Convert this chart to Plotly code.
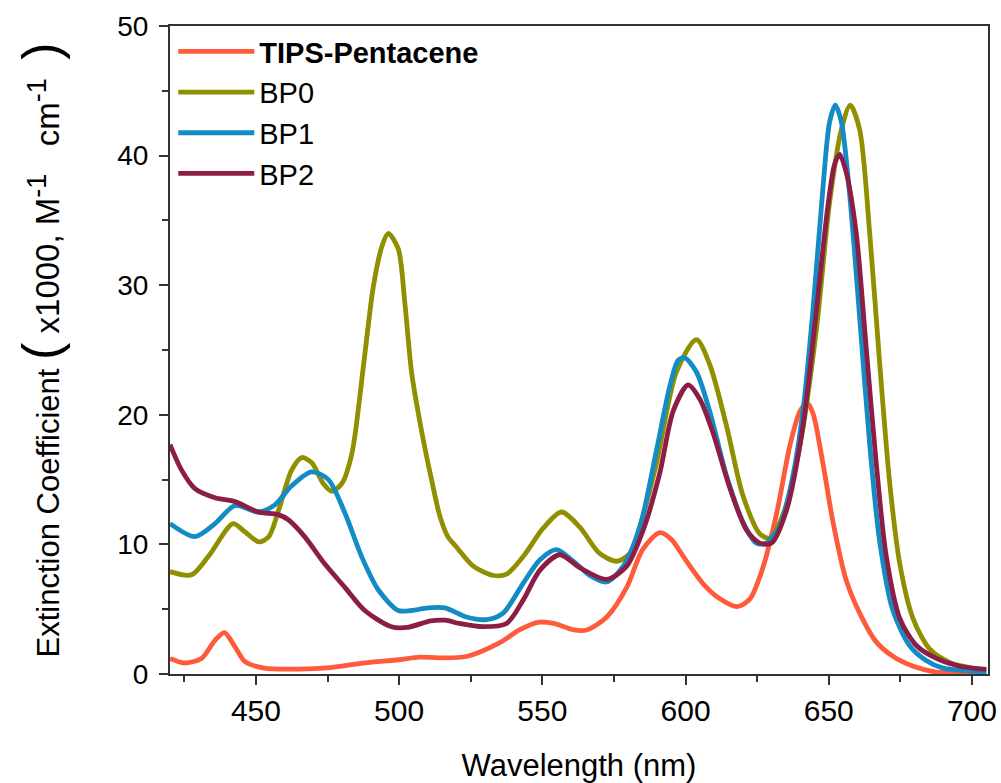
import plotly.graph_objects as go

# ---------------- data ----------------
tips_x = [420, 425, 431, 435.7, 439, 442.7, 446.2, 453, 465, 476, 488, 500, 507, 514, 523.5, 535, 542, 549,
          554, 561, 565.5, 572.5, 579.5, 585, 591, 595, 600, 606, 612, 618, 622.5, 627, 632, 636.5, 640,
          642.5, 644.5, 648, 651.5, 656, 661, 666.5, 672.5, 679.5, 687.5, 695.5, 705]
tips_y = [1.2, 0.85, 1.2, 2.6, 3.2, 2.1, 0.95, 0.45, 0.38, 0.5, 0.85, 1.1, 1.3, 1.25, 1.35, 2.4, 3.4, 4.0,
          3.9, 3.4, 3.4, 4.4, 6.7, 9.6, 10.9, 10.4, 8.8, 7.0, 5.8, 5.2, 5.8, 8.2, 12.6, 17.7, 20.3,
          20.9, 20.1, 16.2, 11.7, 7.3, 4.6, 2.5, 1.35, 0.6, 0.15, 0.05, 0.0]

bp0_x = [420, 427.5, 433.5, 442, 446, 451, 454.5, 458, 462.5, 466, 469.5, 473.5, 476.5, 480, 483.5, 487.5,
         491, 494, 496.2, 499.7, 502, 504.4, 507.8, 511.3, 514.2, 517, 520, 526, 533, 537.5, 543.3, 550.3,
         556.7, 563, 570, 576, 580.5, 585, 590, 596.8, 603.8, 608.4, 614.3, 620, 626, 629.4, 634, 640,
         645.7, 650.3, 654.4, 657.5, 660.8, 664.3, 667.8, 671.3, 674.8, 679.4, 685.2, 692.2, 700.3, 705]
bp0_y = [7.9, 7.65, 9.1, 11.6, 11.0, 10.2, 10.6, 12.7, 15.75, 16.7, 16.3, 14.7, 14.1, 14.7, 17.0, 23.7,
         29.9, 33.0, 34.0, 32.8, 28.6, 23.2, 18.8, 15.0, 12.2, 10.6, 9.8, 8.3, 7.6, 7.7, 9.06, 11.25,
         12.5, 11.35, 9.3, 8.7, 9.3, 12.1, 16.4, 23.3, 25.8, 23.9, 19.15, 13.8, 10.8, 10.5, 12.3, 17.7,
         26.6, 36.4, 42.0, 43.9, 42.0, 34.0, 23.9, 14.7, 8.5, 4.3, 1.93, 0.9, 0.45, 0.3]

bp1_x = [420, 428.7, 435.7, 442.7, 450.8, 456.6, 462.4, 469.4, 475.3, 481.1, 486.9, 492.7, 499.7, 504.3,
         510, 516, 523.5, 530.5, 536.3, 543.3, 549.1, 554.9, 560.8, 566.6, 572.4, 578.2, 584.1, 589.9,
         594.5, 597.4, 599.7, 603.8, 608.4, 614.3, 620.1, 624.7, 628.2, 632.9, 637.5, 641, 644.5, 648,
         650.3, 652.3, 654.4, 657.3, 660.8, 664.3, 667.8, 672.4, 678.2, 684, 689.9, 695.7, 705]
bp1_y = [11.6, 10.6, 11.6, 13.0, 12.5, 13.05, 14.5, 15.6, 15.0, 12.4, 9.06, 6.5, 4.9, 4.9,
         5.1, 5.1, 4.4, 4.2, 4.7, 7.0, 8.8, 9.6, 8.7, 7.6, 7.1, 8.3, 11.4, 17.3,
         22.2, 24.2, 24.4, 23.3, 20.3, 15.3, 11.7, 10.1, 10.1, 11.4, 15.3, 20.3, 28.1, 37.6,
         42.6, 43.9, 42.6, 37.0, 27.5, 17.7, 10.2, 4.9, 2.2, 1.04, 0.45, 0.3, 0.15]

bp2_x = [420, 424, 428.7, 435.7, 442.7, 450.8, 457.8, 461.3, 467, 474, 481, 488, 497.3, 503, 511, 516,
         521, 529.3, 537.5, 543.3, 549.1, 556.1, 563.1, 572.4, 579.4, 585.2, 591, 595.7, 600.9, 605,
         609.6, 615.4, 621.3, 625.9, 630, 635.2, 641, 645.7, 649.7, 652, 653.8, 656.1, 659.6, 663.1,
         666.6, 670.1, 674.8, 680.6, 687.6, 695.7, 705]
bp2_y = [17.7, 15.75, 14.3, 13.6, 13.3, 12.5, 12.3, 11.9, 10.6, 8.5, 6.7, 4.9, 3.65, 3.6, 4.1, 4.15,
         3.9, 3.65, 3.9, 5.7, 8.0, 9.2, 8.2, 7.3, 8.3, 11.1, 15.5, 20.3, 22.3, 21.2,
         18.6, 14.4, 11.1, 10.1, 10.1, 12.6, 19.15, 28.1, 36.1, 39.3, 40.1, 38.7, 34.0, 25.1,
         16.2, 9.06, 4.3, 2.2, 1.2, 0.6, 0.35]

series_names = ["<b>TIPS-Pentacene</b>", "BP0", "BP1", "BP2"]
series_x = [tips_x, bp0_x, bp1_x, bp2_x]
series_y = [tips_y, bp0_y, bp1_y, bp2_y]
series_colors = ["#FF5A3C", "#8F8F00", "#138BC4", "#8C1D45"]

x_ticks = [450, 500, 550, 600, 650, 700]
y_ticks = [0, 10, 20, 30, 40, 50]

FONT = "Liberation Sans, Arial, sans-serif"
NB = "\u00a0"

fig = go.Figure()
for name, xs, ys, col in zip(series_names, series_x, series_y, series_colors):
    fig.add_trace(go.Scatter(x=xs, y=ys, mode="lines", name=name,
                             line=dict(color=col, width=4.8, shape="spline", smoothing=0.8)))

axis_common = dict(showline=True, linecolor="#333333", linewidth=2, mirror=True,
                   ticks="outside", tickcolor="#333333", tickwidth=2, ticklen=9,
                   showgrid=False, zeroline=False, automargin=False)

SUP = "<sup><span style='font-size:27px'>-1</span></sup>"
y_title = ("Extinction Coefficient "
           + "<span style='font-size:52px'>(</span><span style='font-size:33px'>" + NB + "x1000," + NB + "M" + SUP
           + NB + NB + NB + "cm" + SUP + NB + NB + "</span><span style='font-size:52px'>)</span>")

fig.update_xaxes(range=[420, 705.6], tickvals=x_ticks,
                 tickfont=dict(family=FONT, size=30, color="black"),
                 minor=dict(dtick=25, tick0=425, ticks="outside", ticklen=6, tickwidth=2, tickcolor="#333333"),
                 title=dict(text="Wavelength (nm)", font=dict(family=FONT, size=31, color="black"), standoff=30),
                 **axis_common)
fig.update_yaxes(range=[0, 50], tickvals=y_ticks, ticklabelstandoff=5,
                 tickfont=dict(family=FONT, size=28, color="black"),
                 minor=dict(dtick=5, tick0=0, ticks="outside", ticklen=6, tickwidth=2, tickcolor="#333333"),
                 title=dict(text=y_title, font=dict(family=FONT, size=31, color="black"), standoff=48),
                 **axis_common)

fig.update_layout(
    width=1001, height=783, autosize=False,
    margin=dict(l=170, r=13, t=26, b=109),
    plot_bgcolor="white", paper_bgcolor="white",
    legend=dict(x=0.004, y=1.0, xanchor="left", yanchor="top", bgcolor="rgba(0,0,0,0)",
                font=dict(family=FONT, size=29, color="black"), tracegroupgap=0, itemwidth=76),
)

fig.write_html("out.html", config={"displayModeBar": False},
               post_script="document.body.style.margin='0px';")
